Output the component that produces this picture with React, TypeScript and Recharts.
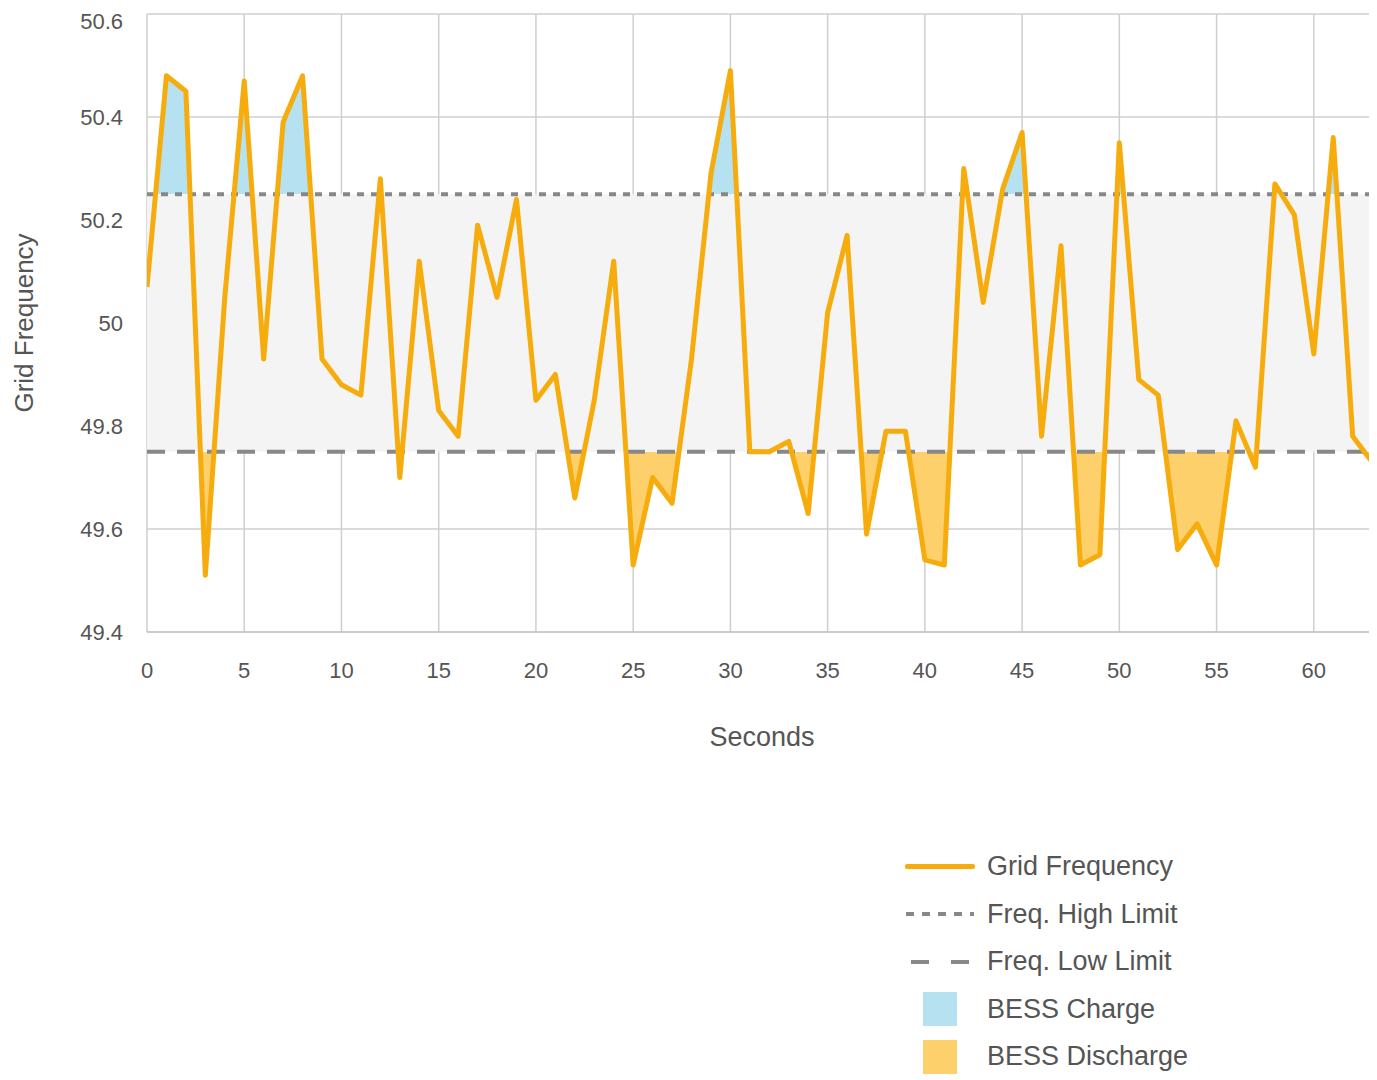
import { Area, CartesianGrid, ComposedChart, Line, ReferenceArea, ReferenceLine, XAxis, YAxis } from "recharts";

const seconds = Array.from({ length: 64 }, (_, i) => i);
const frequency = [
  50.07, 50.48, 50.45, 49.51, 50.05, 50.47, 49.93, 50.39, 50.48, 49.93,
  49.88, 49.86, 50.28, 49.7, 50.12, 49.83, 49.78, 50.19, 50.05, 50.24,
  49.85, 49.9, 49.66, 49.85, 50.12, 49.53, 49.7, 49.65, 49.93, 50.29,
  50.49, 49.75, 49.75, 49.77, 49.63, 50.02, 50.17, 49.59, 49.79, 49.79,
  49.54, 49.53, 50.3, 50.04, 50.26, 50.37, 49.78, 50.15, 49.53, 49.55,
  50.35, 49.89, 49.86, 49.56, 49.61, 49.53, 49.81, 49.72, 50.27, 50.21,
  49.94, 50.36, 49.78, 49.73,
];
const xTicks = [0, 5, 10, 15, 20, 25, 30, 35, 40, 45, 50, 55, 60];
const yTicks = [49.4, 49.6, 49.8, 50, 50.2, 50.4, 50.6];
const highLimit = 50.25;
const lowLimit = 49.75;

const data = seconds.map((s, i) => ({ s, f: frequency[i] }));
const fMax = Math.max(...frequency);
const fMin = Math.min(...frequency);
const highOffset = (fMax - highLimit) / (fMax - fMin);
const lowOffset = (fMax - lowLimit) / (fMax - fMin);

const font = "'Liberation Sans', Arial, sans-serif";
const tick = { fill: "#555", fontSize: 22, fontFamily: font };

const LegendRow = ({ icon, label }: { icon: React.ReactNode; label: string }) => (
  <div style={{ display: "flex", alignItems: "center", height: 47.5 }}>
    <div style={{ width: 94, display: "flex", justifyContent: "center" }}>{icon}</div>
    <span style={{ fontSize: 27, color: "#555", fontFamily: font }}>{label}</span>
  </div>
);

export default function App() {
  return (
    <div>
      <ComposedChart width={1369} height={760} data={data} margin={{ top: 6, right: 0, bottom: 26, left: 0 }}>
        <defs>
          <linearGradient id="chargeFill" x1="0" y1="0" x2="0" y2="1">
            <stop offset={highOffset} stopColor="#b5e1f1" stopOpacity={1} />
            <stop offset={highOffset} stopColor="#b5e1f1" stopOpacity={0} />
          </linearGradient>
          <linearGradient id="dischargeFill" x1="0" y1="0" x2="0" y2="1">
            <stop offset={lowOffset} stopColor="#fdd06b" stopOpacity={0} />
            <stop offset={lowOffset} stopColor="#fdd06b" stopOpacity={1} />
          </linearGradient>
        </defs>
        <ReferenceArea y1={lowLimit} y2={highLimit} fill="#f4f4f4" fillOpacity={1} stroke="none" />
        <CartesianGrid stroke="#cfcfcf" strokeWidth={1.5} />
        <XAxis
          dataKey="s"
          type="number"
          domain={[0, 63.25]}
          allowDataOverflow
          ticks={xTicks}
          tick={tick}
          tickLine={false}
          axisLine={{ stroke: "#bbb" }}
          tickMargin={24}
          height={110}
          label={{ value: "Seconds", position: "insideBottom", offset: -4, fill: "#555", fontSize: 27, fontFamily: font }}
        />
        <YAxis
          domain={[49.4, 50.6]}
          ticks={yTicks}
          tick={tick}
          tickFormatter={(v: number) => String(Math.round(v * 10) / 10)}
          tickLine={false}
          axisLine={false}
          width={139}
          tickMargin={18}
          label={{ value: "Grid Frequency", angle: -90, position: "insideLeft", offset: 16, fill: "#555", fontSize: 26, fontFamily: font, style: { textAnchor: "middle" } }}
        />
        <Area dataKey="f" baseValue={highLimit} type="linear" stroke="none" fill="url(#chargeFill)" fillOpacity={1} isAnimationActive={false} />
        <Area dataKey="f" baseValue={lowLimit} type="linear" stroke="none" fill="url(#dischargeFill)" fillOpacity={1} isAnimationActive={false} />
        <ReferenceLine y={highLimit} stroke="#888" strokeWidth={4} strokeDasharray="7 7" />
        <ReferenceLine y={lowLimit} stroke="#888" strokeWidth={4} strokeDasharray="18 12" />
        <Line dataKey="f" type="linear" stroke="#f6ac0c" strokeWidth={5} dot={false} strokeLinejoin="round" isAnimationActive={false} />
      </ComposedChart>
      <div style={{ marginLeft: 885, marginTop: 75 }}>
        <LegendRow icon={<div style={{ width: 70, height: 5, background: "#f6ac0c", borderRadius: 2 }} />} label="Grid Frequency" />
        <LegendRow icon={<div style={{ width: 68, height: 4, backgroundImage: "repeating-linear-gradient(90deg,#888 0 8px,transparent 8px 16px)" }} />} label="Freq. High Limit" />
        <LegendRow icon={<div style={{ width: 58, height: 4, backgroundImage: "repeating-linear-gradient(90deg,#888 0 18px,transparent 18px 40px)" }} />} label="Freq. Low Limit" />
        <LegendRow icon={<div style={{ width: 34, height: 34, background: "#b5e1f1" }} />} label="BESS Charge" />
        <LegendRow icon={<div style={{ width: 34, height: 34, background: "#fdd06b" }} />} label="BESS Discharge" />
      </div>
    </div>
  );
}
